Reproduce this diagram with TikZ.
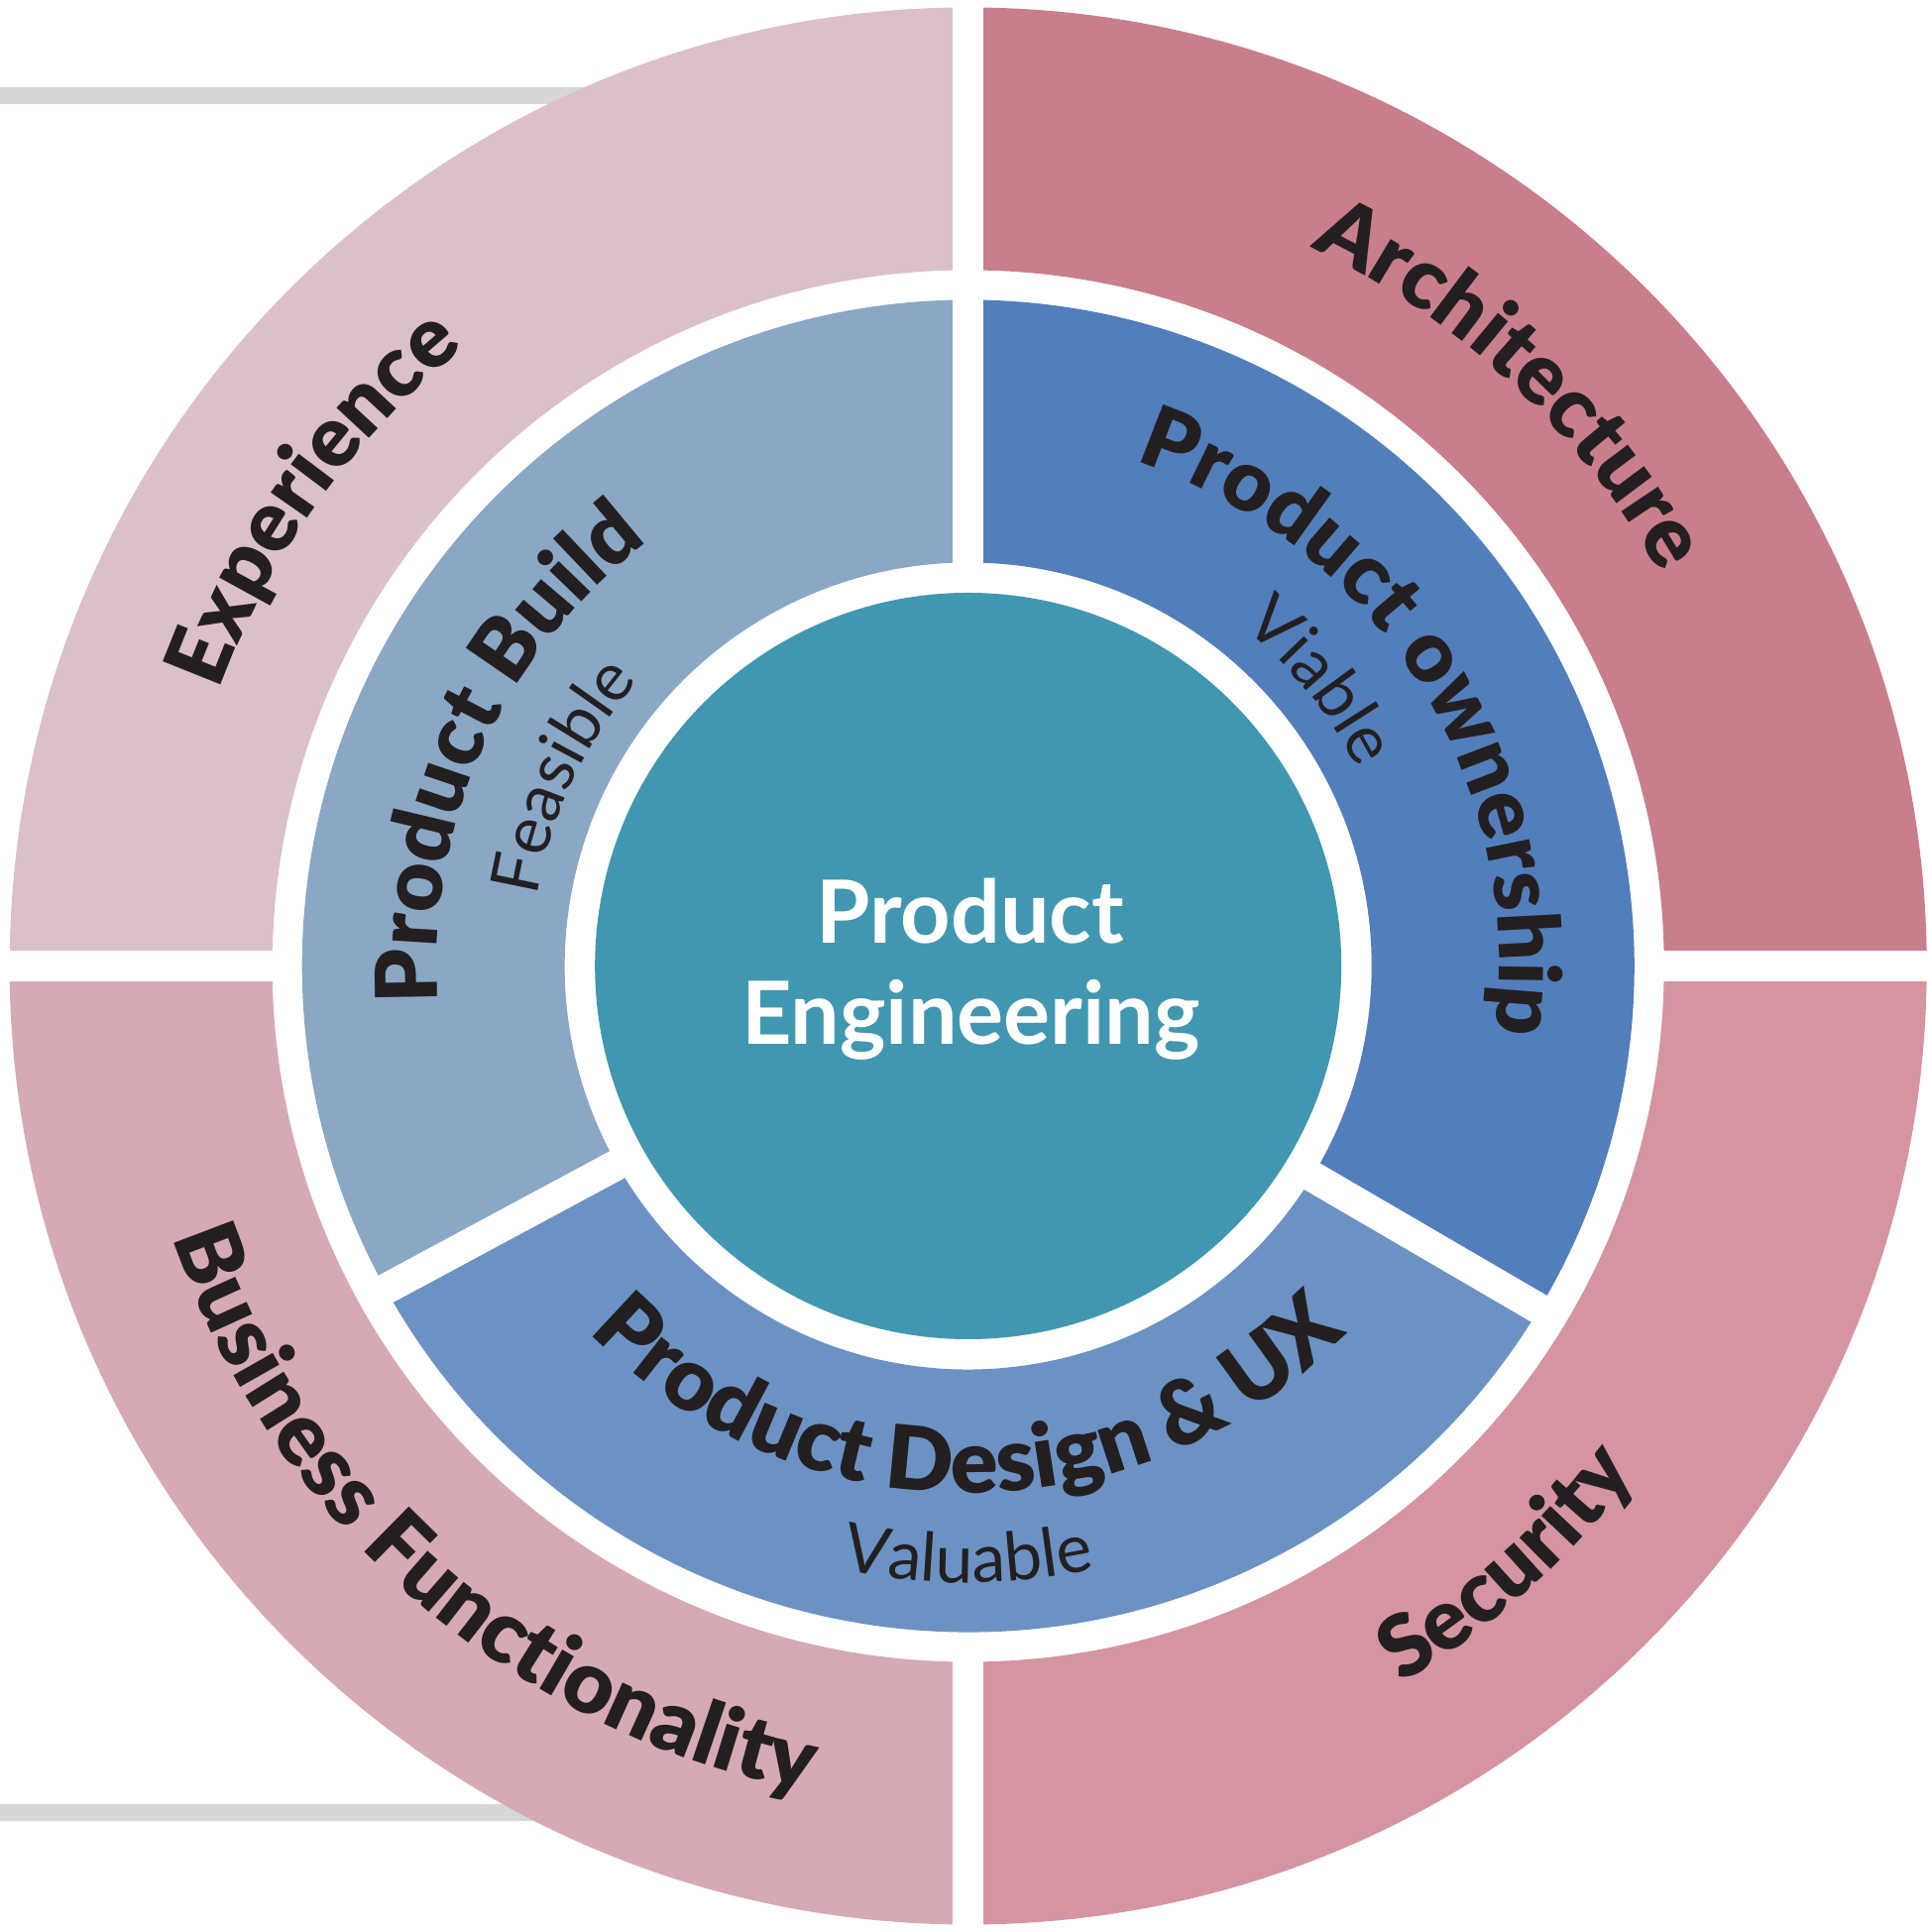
\documentclass[tikz,border=0pt]{standalone}
\usepackage{fontspec}
\setmainfont{Lato}
\newfontfamily\latoblack{Lato Black}
\newfontfamily\latoreg{Lato}
\newfontfamily\latobold{Lato Bold}
\usetikzlibrary{decorations.text,calc}
\definecolor{cExp}{HTML}{DBBFC9}
\definecolor{cArc}{HTML}{C97E8B}
\definecolor{cBus}{HTML}{D6AAB2}
\definecolor{cSec}{HTML}{D495A0}
\definecolor{cBuild}{HTML}{8AA7C5}
\definecolor{cOwn}{HTML}{527EBB}
\definecolor{cDes}{HTML}{6C92C4}
\definecolor{cTeal}{HTML}{4197AF}
\definecolor{cGray}{HTML}{D5D7D6}
\definecolor{cTxt}{HTML}{231F20}
\newcommand\ringsector[5]{% color, r1, r2, a1, a2
  \fill[#1] ($(C)+(#4:#3)$) arc[start angle=#4, end angle=#5, radius=#3]
    -- ($(C)+(#5:#2)$) arc[start angle=#5, end angle=#4, radius=#2] -- cycle;}
\newcommand\arctext[5]{% radius, start, end, font, text
  \path[decorate, decoration={text along path, text align=center, text color=cTxt,
    text={|#4|#5}}] ($(C)+(#2:#1)$) arc[start angle=#2, end angle=#3, radius=#1];}
\newcommand\TitleFont{\latoblack\fontsize{86}{86}\selectfont}
\newcommand\BusFont{\latoblack\fontsize{88}{88}\selectfont}
\newcommand\BigTitleFont{\latoblack\fontsize{89}{89}\selectfont}
\newcommand\SubFont{\latoreg\fontsize{68}{68}\selectfont}
\tikzset{gapline/.style={white, line width=31pt},
  grayline/.style={cGray, line width=17pt}}
\begin{document}
\begin{tikzpicture}[x=1pt,y=1pt]
\useasboundingbox (0,0) rectangle (1946,1949);
\coordinate (C) at (976.7,974.5);
\coordinate (P) at (976.7,964.5);
% gray lines
\coordinate (g1a) at (0,1852.5); \coordinate (g1b) at (700,1852.5);
\coordinate (g2a) at (0,120); \coordinate (g2b) at (700,120);
\draw[grayline] (g1a) -- (g1b);
\draw[grayline] (g2a) -- (g2b);
% outer ring
\ringsector{cArc}{702}{967}{0}{90}
\ringsector{cExp}{702}{967}{90}{180}
\ringsector{cBus}{702}{967}{180}{270}
\ringsector{cSec}{702}{967}{270}{360}
% middle ring
\ringsector{cOwn}{407}{672}{-30.24}{90}
\ringsector{cBuild}{407}{672}{90}{208.26}
\ringsector{cDes}{407}{672}{208.26}{329.76}
% gaps
\draw[gapline] ($(C)+(0,390)$) -- ($(C)+(0,980)$);
\draw[gapline] ($(C)+(0,-690)$) -- ($(C)+(0,-980)$);
\draw[gapline] ($(C)+(-690,0)$) -- ($(C)+(-980,0)$);
\draw[gapline] ($(C)+(690,0)$) -- ($(C)+(980,0)$);
\draw[gapline] ($(P)+(208.26:395)$) -- ($(P)+(208.26:687)$);
\draw[gapline] ($(P)+(-30.24:395)$) -- ($(P)+(-30.24:687)$);
% centre
\fill[cTeal] (C) circle[radius=376.5];
\node[anchor=base, text=white, font=\latobold\fontsize{88}{88}\selectfont, inner sep=0] (pe1) at (978.7,997.3) {Product};
\node[anchor=base, text=white, font=\latobold\fontsize{88}{88}\selectfont, inner sep=0] (pe2) at (979.5,895) {Engineering};
% outer texts
\arctext{805}{214.5}{74.5}{\TitleFont}{Experience}
\arctext{803}{117}{-23}{\TitleFont}{Architecture}
\arctext{848}{149}{309}{\BusFont}{Business Functionality}
\arctext{846}{-128}{32}{\TitleFont}{Security}
% middle texts
\arctext{536}{235.5}{75.5}{\TitleFont}{Product Build}
\arctext{440}{225}{85}{\SubFont}{Feasible}
\arctext{536}{112.2}{-47.8}{\TitleFont}{Product ownership}
\arctext{440}{109}{-31}{\SubFont}{Viable}
\arctext{532}{170}{370}{\BigTitleFont}{Product Design {\&} UX}
\arctext{622}{190}{350}{\SubFont}{Valuable}
\end{tikzpicture}
\end{document}
